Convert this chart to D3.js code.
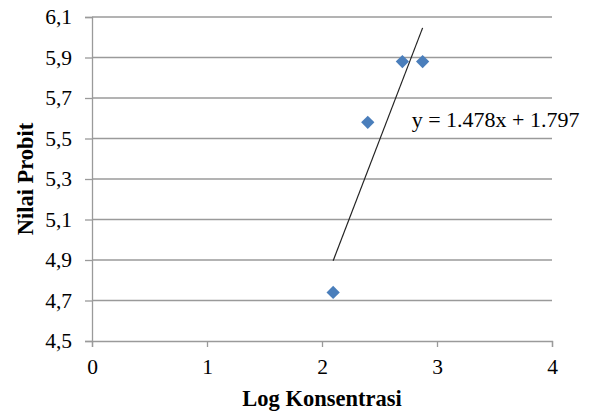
<!DOCTYPE html>
<html><head><meta charset="utf-8">
<script src="https://cdn.jsdelivr.net/npm/d3@7"></script>
<style>body{margin:0;background:#fff}svg{display:block}text{font-family:"Liberation Serif","Times New Roman",serif;fill:#000}</style>
</head><body>
<svg id="c" width="593" height="413"></svg>
<script>
const logKonsentrasi = [2.097, 2.398, 2.699, 2.875];
const nilaiProbit = [4.74, 5.58, 5.88, 5.88];
const trendSlope = 1.478, trendIntercept = 1.797;
const xTicks = [0, 1, 2, 3, 4];
const yTicks = [4.5, 4.7, 4.9, 5.1, 5.3, 5.5, 5.7, 5.9, 6.1];
const equationLabel = "y = 1.478x + 1.797";
const xTitle = "Log Konsentrasi", yTitle = "Nilai Probit";

const svg = d3.select("#c");
const m = {l: 92, r: 41, t: 17, b: 72};
const W = 593, H = 413;
const x = d3.scaleLinear().domain([0, 4]).range([m.l, W - m.r]);
const y = d3.scaleLinear().domain([4.5, 6.1]).range([H - m.b, m.t]);
const grid = "#9a9a9a";

// gridlines
svg.append("g").selectAll("line").data(yTicks.slice(1)).join("line")
  .attr("x1", x(0)).attr("x2", x(4)).attr("y1", d => y(d)).attr("y2", d => y(d))
  .attr("stroke", grid).attr("stroke-width", 1.3);

const fmt = d => d3.format(".1f")(d).replace(".", ",");
const yAxis = svg.append("g").attr("transform", `translate(${x(0)},0)`)
  .call(d3.axisLeft(y).tickValues(yTicks).tickFormat(fmt).tickSize(7).tickPadding(13));
const xAxis = svg.append("g").attr("transform", `translate(0,${y(4.5)})`)
  .call(d3.axisBottom(x).tickValues(xTicks).tickFormat(d3.format("d")).tickSize(6).tickPadding(12));
[xAxis, yAxis].forEach(g => {
  g.select(".domain").attr("stroke", grid).attr("stroke-width", 1.3);
  g.selectAll(".tick line").attr("stroke", grid).attr("stroke-width", 1.3);
  g.selectAll("text").attr("font-family", "Liberation Serif").attr("font-size", 21.5).attr("fill", "#000");
});

// trendline
const xs = d3.extent(logKonsentrasi);
svg.append("line")
  .attr("x1", x(xs[0])).attr("y1", y(trendSlope * xs[0] + trendIntercept))
  .attr("x2", x(xs[1])).attr("y2", y(trendSlope * xs[1] + trendIntercept))
  .attr("stroke", "#222").attr("stroke-width", 1.2);

// points
const diamond = d3.symbol().type(d3.symbolSquare).size(88);
svg.append("g").selectAll("path").data(logKonsentrasi).join("path")
  .attr("d", diamond)
  .attr("transform", (d, i) => `translate(${x(d)},${y(nilaiProbit[i])}) rotate(45)`)
  .attr("fill", "#4a7ebb");

// equation
svg.append("text").attr("x", x(2.78)).attr("y", y(5.556))
  .attr("font-size", 22).text(equationLabel);

// titles
svg.append("text").attr("x", x(2)).attr("y", 406).attr("text-anchor", "middle")
  .attr("font-size", 22.5).attr("font-weight", "bold").text(xTitle);
svg.append("text").attr("transform", `translate(33,${(y(4.5)+y(6.1))/2}) rotate(-90)`)
  .attr("text-anchor", "middle").attr("font-size", 22.5).attr("font-weight", "bold").text(yTitle);
</script>
</body></html>
